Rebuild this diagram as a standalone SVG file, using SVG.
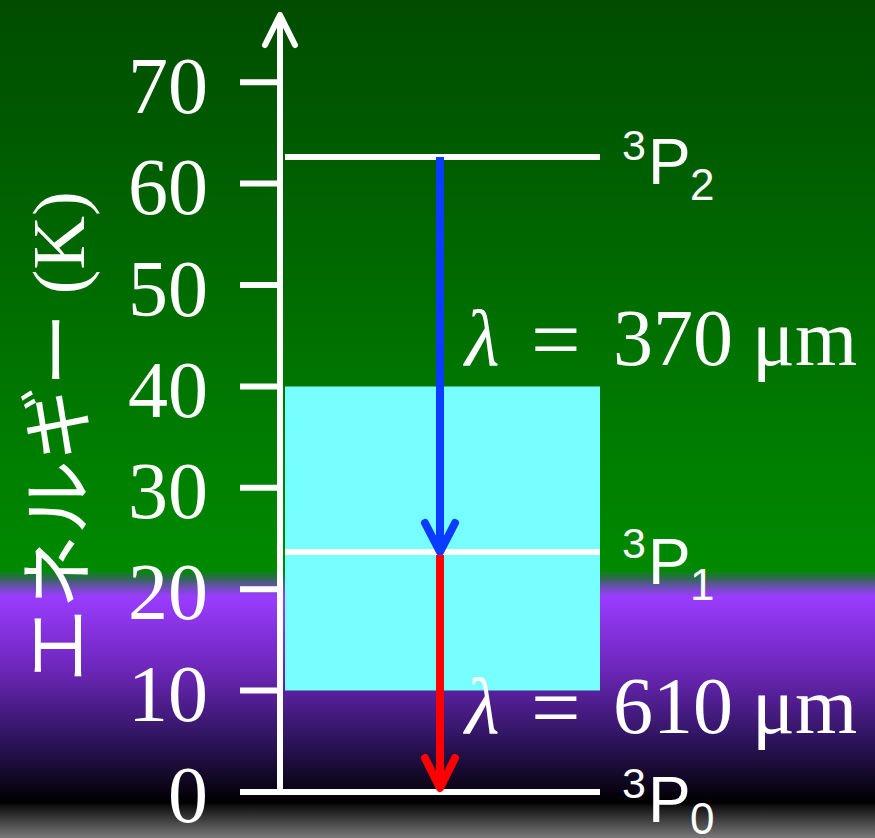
<svg xmlns="http://www.w3.org/2000/svg" width="875" height="838" viewBox="0 0 875 838">
<defs>
<linearGradient id="bg" gradientUnits="userSpaceOnUse" x1="0" y1="0" x2="0" y2="838">
<stop offset="0" stop-color="#004c00"/>
<stop offset="0.68" stop-color="#008a00"/>
<stop offset="0.69" stop-color="#2e6a50"/>
<stop offset="0.70" stop-color="#6a50b0"/>
<stop offset="0.712" stop-color="#9a3cff"/>
<stop offset="0.80" stop-color="#6c26b8"/>
<stop offset="0.88" stop-color="#2f1560"/>
<stop offset="0.958" stop-color="#000000"/>
<stop offset="0.962" stop-color="#111111"/>
<stop offset="1" stop-color="#7a7a7a"/>
</linearGradient>
<style>
.w{stroke:#fff;stroke-width:6;fill:none}
.tk{font-family:"Liberation Serif",serif;font-size:80px;fill:#fff;text-anchor:end}
.lam{font-family:"Liberation Serif",serif;font-size:80px;fill:#fff}
.lv{font-family:"Liberation Sans",Arial,sans-serif;fill:#fff}
</style>
</defs>
<rect width="875" height="838" fill="url(#bg)"/>
<rect id="band" x="285" y="386.5" width="315" height="304" fill="#77ffff"/>
<g id="axis">
<line class="w" x1="280" y1="795" x2="280" y2="17" stroke-width="6"/>
<polyline class="w" points="265,45 280,15 295,45" stroke-width="7" stroke-linecap="round" stroke-linejoin="round"/>
<g class="w">
<line x1="240" y1="82.2" x2="280" y2="82.2"/>
<line x1="240" y1="183.6" x2="280" y2="183.6"/>
<line x1="240" y1="285" x2="280" y2="285"/>
<line x1="240" y1="386.4" x2="280" y2="386.4"/>
<line x1="240" y1="487.8" x2="280" y2="487.8"/>
<line x1="240" y1="589.2" x2="280" y2="589.2"/>
<line x1="240" y1="690.6" x2="280" y2="690.6"/>
</g>
<g class="tk">
<text x="208" y="113">70</text>
<text x="208" y="214">60</text>
<text x="208" y="316">50</text>
<text x="208" y="417">40</text>
<text x="208" y="518">30</text>
<text x="208" y="619">20</text>
<text x="208" y="721">10</text>
<text x="208" y="822">0</text>
</g>
<text id="ylabel" transform="translate(84,437) rotate(-90)" text-anchor="middle" fill="#fff" font-size="74"><tspan font-family="'Noto Sans CJK JP',sans-serif">エネルギー</tspan><tspan font-family="'Liberation Serif',serif"> (K)</tspan></text>
</g>
<g id="levels" class="w">
<line x1="285" y1="157" x2="600" y2="157"/>
<line x1="285" y1="552" x2="600" y2="552"/>
<line x1="240" y1="792" x2="600" y2="792"/>
</g>
<g id="connectors" fill="none" stroke-width="8" stroke-linecap="round" stroke-linejoin="round">
<line x1="440" y1="157" x2="440" y2="550" stroke="#0a3cff" stroke-linecap="butt"/>
<polyline points="425,523 440,552 455,523" stroke="#0a3cff"/>
<line x1="440" y1="555" x2="440" y2="788" stroke="#ff0000" stroke-linecap="butt"/>
<polyline points="425,758 440,788 455,758" stroke="#ff0000"/>
</g>
<g id="lab-P2" class="lv">
<text x="622" y="160" font-size="43">3</text>
<text x="648" y="184" font-size="64">P</text>
<text x="690" y="200" font-size="44">2</text>
</g>
<g id="lab-P1" class="lv">
<text x="622" y="558" font-size="43">3</text>
<text x="648" y="584" font-size="64">P</text>
<text x="690" y="600" font-size="44">1</text>
</g>
<g id="lab-P0" class="lv">
<text x="622" y="798" font-size="43">3</text>
<text x="648" y="822" font-size="64">P</text>
<text x="690" y="834" font-size="44">0</text>
</g>
<g id="lab-370" class="lam">
<text x="465" y="365" font-style="italic">λ</text>
<text x="531" y="369" font-size="88">=</text>
<text x="613" y="365">370</text>
<text x="752" y="365">μm</text>
</g>
<g id="lab-610" class="lam">
<text x="465" y="733" font-style="italic">λ</text>
<text x="531" y="737" font-size="88">=</text>
<text x="613" y="733">610</text>
<text x="752" y="733">μm</text>
</g>
</svg>
